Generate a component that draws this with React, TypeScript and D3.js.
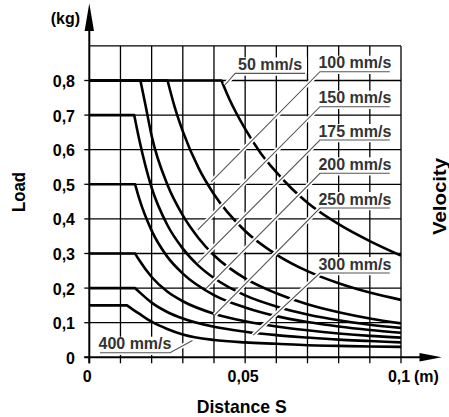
import React from "react";
import * as d3 from "d3";

// ---------- data ----------
const velocityLabels = ["50 mm/s", "100 mm/s", "150 mm/s", "175 mm/s", "200 mm/s", "250 mm/s", "300 mm/s", "400 mm/s"];

// [distance S (m), load (kg)] – first point = end of the flat (max load) plateau
const v50: [number, number][] = [[0.0424, 0.8], [0.045, 0.745], [0.05, 0.66], [0.055, 0.59], [0.06, 0.535], [0.065, 0.487], [0.07, 0.447], [0.08, 0.385], [0.09, 0.336], [0.1, 0.294]];
const v100: [number, number][] = [[0.0251, 0.8], [0.0275, 0.72], [0.03, 0.653], [0.035, 0.548], [0.04, 0.471], [0.05, 0.365], [0.06, 0.297], [0.07, 0.249], [0.08, 0.214], [0.09, 0.187], [0.1, 0.166]];
const v150: [number, number][] = [[0.0164, 0.8], [0.018, 0.73], [0.02, 0.64], [0.025, 0.5], [0.03, 0.41], [0.035, 0.345], [0.04, 0.295], [0.05, 0.228], [0.06, 0.185], [0.07, 0.153], [0.08, 0.13], [0.09, 0.112], [0.1, 0.098]];
const v175: [number, number][] = [[0.0144, 0.7], [0.016, 0.63], [0.02, 0.49], [0.025, 0.383], [0.03, 0.314], [0.035, 0.265], [0.04, 0.229], [0.05, 0.179], [0.06, 0.147], [0.07, 0.124], [0.08, 0.107], [0.09, 0.094], [0.1, 0.085]];
const v200: [number, number][] = [[0.0147, 0.5], [0.016, 0.459], [0.02, 0.366], [0.025, 0.291], [0.03, 0.242], [0.04, 0.18], [0.05, 0.144], [0.06, 0.119], [0.07, 0.102], [0.08, 0.089], [0.09, 0.079], [0.1, 0.071]];
const v250: [number, number][] = [[0.0147, 0.3], [0.016, 0.281], [0.02, 0.232], [0.025, 0.19], [0.03, 0.162], [0.04, 0.126], [0.05, 0.104], [0.06, 0.089], [0.07, 0.078], [0.08, 0.069], [0.09, 0.062], [0.1, 0.057]];
const v300: [number, number][] = [[0.0147, 0.2], [0.016, 0.189], [0.02, 0.158], [0.025, 0.131], [0.03, 0.112], [0.04, 0.088], [0.05, 0.074], [0.06, 0.064], [0.07, 0.057], [0.08, 0.051], [0.09, 0.047], [0.1, 0.043]];
const v400: [number, number][] = [[0.0121, 0.15], [0.014, 0.138], [0.016, 0.126], [0.02, 0.103], [0.025, 0.082], [0.03, 0.066], [0.04, 0.05], [0.05, 0.043], [0.06, 0.039], [0.07, 0.035], [0.08, 0.033], [0.09, 0.031], [0.1, 0.03]];
const seriesValues = [v50, v100, v150, v175, v200, v250, v300, v400];

const xTickValues = [0, 0.01, 0.02, 0.03, 0.04, 0.05, 0.06, 0.07, 0.08, 0.09, 0.1];
const xTickLabels: [number, string][] = [[0, "0"], [0.05, "0,05"], [0.1, "0,1"]];
const yTickValues = [0, 0.1, 0.2, 0.3, 0.4, 0.5, 0.6, 0.7, 0.8];
const yTickLabels = ["0", "0,1", "0,2", "0,3", "0,4", "0,5", "0,6", "0,7", "0,8"];

// ---------- annotation layout (data units) ----------
// underline: [S left, S right, load]; leader target: [S, load]
const labelUnderline: [number, number, number][] = [
  [0.0468, 0.0692, 0.8205],
  [0.074, 0.0964, 0.8254],
  [0.074, 0.0964, 0.7243],
  [0.074, 0.0964, 0.628],
  [0.074, 0.0964, 0.5318],
  [0.074, 0.0964, 0.4315],
  [0.074, 0.0964, 0.2436],
  [0.0034, 0.0259, 0.0133],
];
const leaderTarget: [number, number][] = [
  [0.0435, 0.787], [0.0391, 0.507], [0.0348, 0.368], [0.0348, 0.272],
  [0.0375, 0.199], [0.0402, 0.122], [0.0526, 0.064], [0.0331, 0.0486],
];
const leaderFromLeft = [true, true, true, true, true, true, true, false];

const W = 449, H = 417;
const x = d3.scaleLinear().domain([0, 0.1]).range([89.3, 401]);
const y = d3.scaleLinear().domain([0, 0.9]).range([357.3, 45.9]);
const FONT = "'Liberation Sans', Arial, Helvetica, sans-serif";

export default function App() {
  const line = d3.line<[number, number]>().x(d => x(d[0])).y(d => y(d[1])).curve(d3.curveMonotoneX);
  const curvePaths = seriesValues.map(s => {
    const p = line(s) || "";
    return `M${x(0)},${y(s[0][1])}L${p.slice(1)}`;
  });
  const gridX = xTickValues.slice(1);
  const gridY = [0.1, 0.2, 0.3, 0.4, 0.5, 0.6, 0.7, 0.8, 0.9];
  const x0 = x(0), y0 = y(0);

  const leaderPoints = labelUnderline.map((u, i) => {
    const [sl, sr, ld] = u;
    const start = leaderFromLeft[i] ? [x(sr), y(ld), x(sl), y(ld)] : [x(sl), y(ld), x(sr), y(ld)];
    const t = leaderTarget[i];
    return `${start[0]},${start[1]} ${start[2]},${start[3]} ${x(t[0])},${y(t[1])}`;
  });

  return (
    <svg width={W} height={H} style={{ position: "absolute", left: 0, top: 0, background: "#fff" }} fontFamily={FONT}>
      <rect x={0} y={0} width={W} height={H} fill="#fff" />
      {/* grid */}
      <g stroke="#000" strokeWidth={1.3}>
        {gridX.map(v => <line key={"gx" + v} x1={x(v)} x2={x(v)} y1={y(0)} y2={y(0.9)} />)}
        {gridY.map(v => <line key={"gy" + v} x1={x(0)} x2={x(0.1)} y1={y(v)} y2={y(v)} />)}
      </g>
      {/* ticks */}
      <g stroke="#000" strokeWidth={1.3}>
        {xTickValues.map(v => <line key={"tx" + v} x1={x(v)} x2={x(v)} y1={y0} y2={y0 + 6} />)}
        {yTickValues.map(v => <line key={"ty" + v} x1={x0 - 5} x2={x0} y1={y(v)} y2={y(v)} />)}
      </g>
      {/* curves */}
      <g fill="none" stroke="#000" strokeWidth={2.6} strokeLinejoin="round">
        {curvePaths.map((d, i) => <path key={"c" + i} d={d} />)}
      </g>
      {/* leader halos */}
      {leaderPoints.map((pts, i) => (
        <polyline key={"h" + i} points={pts} fill="none" stroke="#fff" strokeWidth={4.5} />
      ))}
      {/* label backgrounds */}
      {labelUnderline.map((u, i) => {
        const [sl, sr, ld] = u;
        return <rect key={"b" + i} x={x(sl) - 2} y={y(ld) - 16} width={x(sr) - x(sl) + 4} height={16} fill="#fff" />;
      })}
      {/* leaders + labels */}
      {labelUnderline.map((u, i) => {
        const [sl, sr, ld] = u;
        const cx = (x(sl) + x(sr)) / 2;
        return (
          <g key={"lt" + i}>
            <polyline points={leaderPoints[i]} fill="none" stroke="#555" strokeWidth={1.1} />
            <text x={cx} y={y(ld) - 3.5} textAnchor="middle" fontSize={16} fontWeight="bold" fill="#333">{velocityLabels[i]}</text>
          </g>
        );
      })}
      {/* axes */}
      <g stroke="#000" strokeWidth={2}>
        <line x1={x0} x2={x0} y1={y0 + 6} y2={20} />
        <line x1={x0 - 5} x2={425} y1={y0} y2={y0} />
      </g>
      <path d={`M${x0},3.3L${x0 + 4.7},31L${x0 - 4.7},31Z`} fill="#000" />
      <path d={`M441.7,${y0}L419.5,${y0 - 4.2}L419.5,${y0 + 4.2}Z`} fill="#000" />
      {/* tick labels */}
      <g fontSize={16} fontWeight="bold" fill="#000">
        {yTickValues.map((v, i) => (
          <text key={"yl" + v} x={75} y={y(v) + 6.5} textAnchor="end">{yTickLabels[i]}</text>
        ))}
        {xTickLabels.map(([v, s]) => (
          <text key={"xl" + v} x={x(v) - 2} y={382} textAnchor="middle">{s}</text>
        ))}
        <text x={414} y={382}>(m)</text>
        <text x={80} y={23.5} textAnchor="end">(kg)</text>
      </g>
      {/* titles */}
      <g fontSize={19} fontWeight="bold" fill="#000">
        <text x={241.7} y={413} textAnchor="middle" textLength={90} lengthAdjust="spacingAndGlyphs">Distance S</text>
        <text transform="translate(25,192) rotate(-90)" textAnchor="middle" textLength={40} lengthAdjust="spacingAndGlyphs">Load</text>
        <text transform="translate(446,196.5) rotate(-90)" textAnchor="middle" textLength={77} lengthAdjust="spacingAndGlyphs">Velocity</text>
      </g>
    </svg>
  );
}
